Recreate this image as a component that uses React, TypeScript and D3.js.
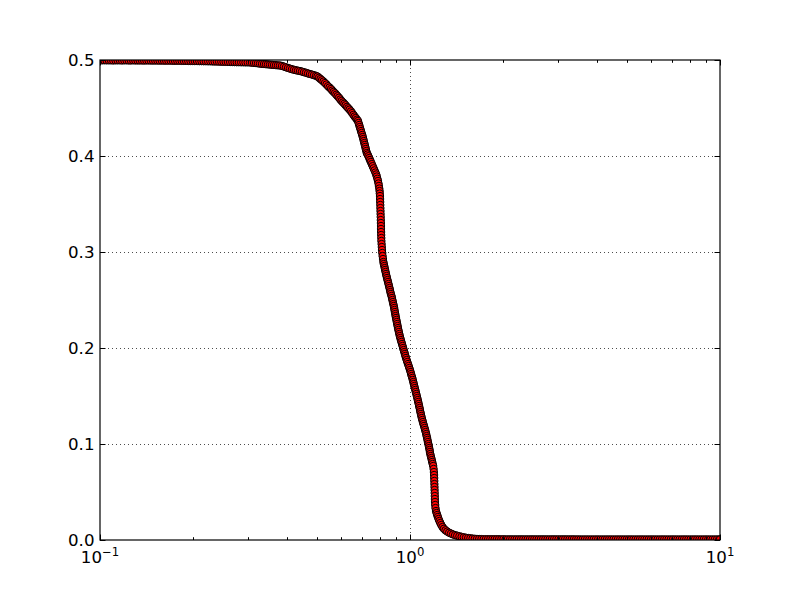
import React from "react";
import * as d3 from "d3";

// ---- data (x on log axis, y linear) ----
const upperPlateau: [number, number][] = [
  [0.1, 0.4996], [0.1016, 0.4996], [0.1033, 0.4997], [0.105, 0.4996], [0.1068, 0.4996], [0.1085, 0.4996],
  [0.1103, 0.4995], [0.1122, 0.4996], [0.114, 0.4996], [0.1159, 0.4996], [0.1178, 0.4995], [0.1198, 0.4996],
  [0.1218, 0.4996], [0.1238, 0.4995], [0.1258, 0.4995], [0.1279, 0.4996], [0.13, 0.4995], [0.1322, 0.4995],
  [0.1343, 0.4995], [0.1366, 0.4995], [0.1388, 0.4994], [0.1411, 0.4995], [0.1434, 0.4995], [0.1458, 0.4994],
  [0.1482, 0.4994], [0.1507, 0.4994], [0.1532, 0.4994], [0.1557, 0.4993], [0.1583, 0.4994], [0.1609, 0.4993],
  [0.1635, 0.4993], [0.1662, 0.4993], [0.169, 0.4993], [0.1718, 0.4992], [0.1746, 0.4992], [0.1775, 0.4992],
  [0.1804, 0.4992], [0.1834, 0.4991], [0.1864, 0.4991], [0.1895, 0.4991], [0.1926, 0.499], [0.1958, 0.499],
  [0.199, 0.499], [0.2023, 0.4989], [0.2057, 0.4989], [0.2091, 0.4988], [0.2125, 0.4988], [0.216, 0.4987],
  [0.2196, 0.4987], [0.2232, 0.4986], [0.2269, 0.4986], [0.2306, 0.4985], [0.2344, 0.4984], [0.2383, 0.4984],
  [0.2422, 0.4983], [0.2462, 0.4982], [0.2503, 0.4981], [0.2544, 0.4981], [0.2586, 0.498], [0.2629, 0.4979],
  [0.2672, 0.4979], [0.2716, 0.4978], [0.2761, 0.4977], [0.2806, 0.4977], [0.2853, 0.4976], [0.29, 0.4976],
  [0.2947, 0.4975], [0.2996, 0.4975],
];

const shoulder: [number, number][] = [
  [0.3047, 0.4974], [0.3093, 0.4972], [0.3139, 0.497], [0.3186, 0.4968], [0.3233, 0.4965], [0.3282, 0.4962],
  [0.3331, 0.496], [0.3381, 0.4958], [0.3431, 0.4956], [0.3483, 0.4954], [0.3535, 0.4952], [0.3588, 0.495],
  [0.3641, 0.4948], [0.3696, 0.4946], [0.3751, 0.4944], [0.3807, 0.4943], [0.3864, 0.4938], [0.3922, 0.4931],
  [0.3981, 0.4924], [0.4041, 0.4917], [0.4101, 0.491], [0.4162, 0.4904], [0.4225, 0.4898], [0.4288, 0.4893],
  [0.4352, 0.4889], [0.4417, 0.4885], [0.4483, 0.4879], [0.455, 0.4873], [0.4618, 0.4867], [0.4688, 0.486],
  [0.4758, 0.4854], [0.4829, 0.4848], [0.4901, 0.4842], [0.4975, 0.4835], [0.503, 0.4828], [0.5087, 0.4815],
  [0.5144, 0.4802], [0.5201, 0.4789], [0.526, 0.4775], [0.5319, 0.476], [0.5378, 0.4745], [0.5439, 0.4727],
  [0.55, 0.4713], [0.5561, 0.4698], [0.5615, 0.4682], [0.567, 0.4668], [0.5729, 0.4654], [0.5785, 0.4638],
  [0.5841, 0.4623], [0.5902, 0.4607], [0.5959, 0.4589], [0.6017, 0.4573], [0.608, 0.4558], [0.6139, 0.4544],
  [0.6198, 0.4529], [0.6263, 0.4512], [0.6324, 0.4497], [0.6385, 0.4483], [0.6452, 0.4465], [0.6509, 0.4447],
  [0.6568, 0.4429], [0.6627, 0.4412], [0.6686, 0.4396], [0.6746, 0.4379], [0.6796, 0.4365], [0.6826, 0.4344],
  [0.6857, 0.4323], [0.6887, 0.4302], [0.6918, 0.4281], [0.6949, 0.426], [0.698, 0.424], [0.7011, 0.4219],
  [0.7043, 0.4198], [0.7069, 0.4177], [0.7095, 0.4156], [0.7122, 0.4135], [0.7148, 0.4115], [0.7175, 0.4094],
  [0.7201, 0.4073], [0.7228, 0.4052], [0.7255, 0.4031], [0.7298, 0.4016], [0.7342, 0.3998], [0.7386, 0.3979],
  [0.743, 0.3958], [0.7479, 0.3938], [0.753, 0.3916], [0.758, 0.3894], [0.7631, 0.3872], [0.7682, 0.385],
  [0.7734, 0.3828], [0.778, 0.3808], [0.7814, 0.3786], [0.7849, 0.3763], [0.7884, 0.374], [0.7914, 0.3714],
  [0.7937, 0.3688], [0.7961, 0.3661], [0.7979, 0.3635], [0.799, 0.3609],
];

const firstDrop: [number, number][] = [
  [0.8002, 0.3583], [0.8008, 0.3552], [0.8014, 0.3521], [0.802, 0.349], [0.8026, 0.3458], [0.8032, 0.3427],
  [0.8038, 0.3396], [0.8044, 0.3365], [0.805, 0.3333], [0.8056, 0.3302], [0.8062, 0.3271], [0.8062, 0.324],
  [0.8068, 0.3208], [0.8074, 0.3177], [0.808, 0.3146], [0.8086, 0.3115], [0.8098, 0.3083], [0.811, 0.3052],
  [0.8122, 0.3021], [0.814, 0.299], [0.8158, 0.2958], [0.8182, 0.2927], [0.8207, 0.2896],
];

const midSlope: [number, number][] = [
  [0.8231, 0.2875], [0.8262, 0.2854], [0.8287, 0.2833], [0.8311, 0.2813], [0.8342, 0.2792], [0.8367, 0.2771],
  [0.8398, 0.275], [0.8429, 0.2729], [0.8461, 0.2708], [0.8492, 0.2688], [0.8524, 0.2667], [0.8555, 0.2646],
  [0.8587, 0.2625], [0.8619, 0.2604], [0.8645, 0.2583], [0.8677, 0.2563], [0.8716, 0.2542], [0.8748, 0.2521],
  [0.8774, 0.25], [0.8807, 0.2479], [0.8833, 0.2458], [0.8866, 0.2438], [0.8892, 0.2417], [0.8912, 0.2396],
  [0.8939, 0.2375], [0.8965, 0.2354], [0.8985, 0.2333], [0.9012, 0.2313], [0.9039, 0.2292], [0.9066, 0.2271],
  [0.9093, 0.225], [0.912, 0.2229], [0.9147, 0.2208], [0.9174, 0.2188], [0.9208, 0.2167], [0.9236, 0.2146],
  [0.927, 0.2125], [0.9305, 0.2104], [0.9346, 0.2083], [0.9381, 0.2063], [0.9423, 0.2042], [0.9465, 0.2021],
  [0.95, 0.2], [0.9543, 0.1979], [0.9585, 0.1958], [0.9628, 0.1938], [0.9664, 0.1917], [0.9707, 0.1896],
  [0.9758, 0.1875], [0.9801, 0.1854], [0.9853, 0.1833], [0.9904, 0.1813], [0.9948, 0.1792], [1.0, 0.1771],
  [1.0045, 0.175], [1.0082, 0.1729], [1.0127, 0.1708], [1.0172, 0.1688], [1.021, 0.1667], [1.0248, 0.1646],
  [1.0286, 0.1625], [1.0325, 0.1604], [1.0363, 0.1583], [1.0402, 0.1563], [1.044, 0.1542], [1.0479, 0.1521],
  [1.0518, 0.15], [1.0557, 0.1479], [1.0597, 0.1458], [1.0628, 0.1438], [1.0668, 0.1417], [1.0699, 0.1396],
  [1.0739, 0.1375], [1.0771, 0.1354], [1.0803, 0.1333], [1.0843, 0.1313], [1.0876, 0.1292], [1.0916, 0.1271],
  [1.0957, 0.125], [1.1006, 0.1229], [1.1047, 0.1208], [1.1096, 0.1188], [1.1146, 0.1167], [1.1187, 0.1146],
  [1.1237, 0.1125], [1.1279, 0.1104], [1.1312, 0.1083], [1.1354, 0.1063], [1.1388, 0.1042], [1.1422, 0.1021],
  [1.1464, 0.1], [1.1498, 0.0979], [1.1532, 0.0958], [1.1567, 0.0938], [1.1593, 0.0917], [1.1627, 0.0896],
  [1.167, 0.0875], [1.1714, 0.0854], [1.1757, 0.0833], [1.1792, 0.0813], [1.1836, 0.0792], [1.188, 0.0771],
];

const secondDrop: [number, number][] = [
  [1.1916, 0.074], [1.1942, 0.0708], [1.196, 0.0677], [1.1969, 0.0646], [1.1978, 0.0615], [1.1987, 0.0583],
  [1.1996, 0.0552], [1.2004, 0.0521], [1.2013, 0.049], [1.2022, 0.0458], [1.2031, 0.0427], [1.204, 0.0396],
  [1.2058, 0.0365], [1.2085, 0.0333],
];

const knee: [number, number][] = [
  [1.213, 0.0302], [1.2184, 0.0281], [1.2238, 0.026], [1.2302, 0.024], [1.2366, 0.0219], [1.244, 0.0198],
  [1.2524, 0.0177], [1.2618, 0.0156], [1.2731, 0.0135], [1.2864, 0.0117], [1.3017, 0.0101], [1.3183, 0.0088],
  [1.337, 0.0076], [1.356, 0.0067], [1.3763, 0.0058], [1.3979, 0.0051], [1.4199, 0.0045], [1.4433, 0.0039],
  [1.467, 0.0033], [1.4912, 0.0028], [1.5158, 0.0024], [1.5408, 0.0021], [1.5662, 0.0018], [1.5919, 0.0015],
  [1.6182, 0.0013], [1.6448, 0.0011], [1.6719, 0.001], [1.7, 0.0009],
];

const lowerPlateau: [number, number][] = [
  [1.728, 0.0008], [1.757, 0.0008], [1.786, 0.0008], [1.815, 0.0008], [1.845, 0.0008], [1.875, 0.0008],
  [1.906, 0.0008], [1.938, 0.0008], [1.97, 0.0007], [2.002, 0.0008], [2.035, 0.0007], [2.069, 0.0007],
  [2.103, 0.0007], [2.137, 0.0007], [2.173, 0.0007], [2.208, 0.0007], [2.245, 0.0007], [2.282, 0.0007],
  [2.319, 0.0007], [2.358, 0.0007], [2.396, 0.0007], [2.436, 0.0007], [2.476, 0.0007], [2.517, 0.0007],
  [2.558, 0.0007], [2.601, 0.0007], [2.643, 0.0007], [2.687, 0.0007], [2.731, 0.0007], [2.776, 0.0007],
  [2.822, 0.0007], [2.869, 0.0007], [2.916, 0.0007], [2.964, 0.0007], [3.013, 0.0007], [3.063, 0.0007],
  [3.113, 0.0007], [3.164, 0.0007], [3.217, 0.0007], [3.27, 0.0007], [3.324, 0.0007], [3.378, 0.0007],
  [3.434, 0.0006], [3.491, 0.0007], [3.548, 0.0006], [3.607, 0.0006], [3.666, 0.0006], [3.727, 0.0006],
  [3.788, 0.0006], [3.851, 0.0006], [3.914, 0.0006], [3.979, 0.0006], [4.044, 0.0006], [4.111, 0.0006],
  [4.179, 0.0006], [4.248, 0.0006], [4.318, 0.0006], [4.389, 0.0006], [4.461, 0.0006], [4.535, 0.0006],
  [4.61, 0.0006], [4.686, 0.0006], [4.763, 0.0006], [4.842, 0.0006], [4.921, 0.0006], [5.003, 0.0006],
  [5.085, 0.0006], [5.169, 0.0006], [5.254, 0.0006], [5.341, 0.0006], [5.429, 0.0006], [5.518, 0.0006],
  [5.609, 0.0006], [5.702, 0.0006], [5.796, 0.0006], [5.891, 0.0006], [5.988, 0.0006], [6.087, 0.0006],
  [6.187, 0.0006], [6.289, 0.0006], [6.393, 0.0006], [6.499, 0.0006], [6.606, 0.0006], [6.715, 0.0006],
  [6.825, 0.0006], [6.938, 0.0006], [7.052, 0.0006], [7.168, 0.0006], [7.287, 0.0006], [7.407, 0.0006],
  [7.529, 0.0006], [7.653, 0.0006], [7.779, 0.0006], [7.907, 0.0006], [8.038, 0.0006], [8.17, 0.0006],
  [8.305, 0.0006], [8.442, 0.0006], [8.581, 0.0006], [8.722, 0.0006], [8.866, 0.0006], [9.012, 0.0006],
  [9.161, 0.0006], [9.312, 0.0006], [9.465, 0.0006], [9.621, 0.0006], [9.78, 0.0006], [9.941, 0.0006],
  [10.0, 0.0006],
];

const yTickValues = [0.0, 0.1, 0.2, 0.3, 0.4, 0.5];
const yTickLabels = ["0.0", "0.1", "0.2", "0.3", "0.4", "0.5"];
const xMajorTicks = [0.1, 1, 10];
const xMajorExponents = ["\u22121", "0", "1"];

const W = 800;
const H = 600;
const left = 100, right = 720, top = 60, bottom = 540;
const FONT = "DejaVu Sans";

export default function App() {
  const x = d3.scaleLog().domain([0.1, 10]).range([left, right]);
  const y = d3.scaleLinear().domain([0, 0.5]).range([bottom, top]);

  const points = [
    ...upperPlateau, ...shoulder, ...firstDrop, ...midSlope, ...secondDrop, ...knee, ...lowerPlateau,
  ];

  const allXTicks = x.ticks();
  const minorX = allXTicks.filter((t) => Math.abs(Math.log10(t) - Math.round(Math.log10(t))) > 1e-6);

  const majorLen = 5.5;
  const minorLen = 2.8;

  return (
    <svg
      width={W}
      height={H}
      viewBox={`0 0 ${W} ${H}`}
      style={{ position: "absolute", left: 0, top: 0, background: "#fff" }}
    >
      <rect x={0} y={0} width={W} height={H} fill="#fff" />
      <defs>
        <clipPath id="plotclip">
          <rect x={left} y={top} width={right - left} height={bottom - top} />
        </clipPath>
      </defs>

      <g clipPath="url(#plotclip)">
        {points.map(([px, py], i) => (
          <circle
            key={i}
            cx={x(px)}
            cy={y(py)}
            r={3.7}
            fill="#ff0000"
            stroke="#000"
            strokeWidth={1.0}
          />
        ))}
      </g>

      {/* grid */}
      <g stroke="#000" strokeWidth={0.7} strokeDasharray="1,3" fill="none">
        {yTickValues.slice(1, -1).map((t) => (
          <line key={`gy${t}`} x1={left} x2={right} y1={Math.round(y(t)) + 0.5} y2={Math.round(y(t)) + 0.5} />
        ))}
        {xMajorTicks.slice(1, -1).map((t) => (
          <line key={`gx${t}`} x1={Math.round(x(t)) + 0.5} x2={Math.round(x(t)) + 0.5} y1={top} y2={bottom} />
        ))}
      </g>

      {/* ticks */}
      <g stroke="#000" strokeWidth={1}>
        {yTickValues.map((t) => {
          const yy = Math.round(y(t)) + 0.5;
          return (
            <g key={`ty${t}`}>
              <line x1={left} x2={left + majorLen} y1={yy} y2={yy} />
              <line x1={right} x2={right - majorLen} y1={yy} y2={yy} />
            </g>
          );
        })}
        {xMajorTicks.map((t) => {
          const xx = Math.round(x(t)) + 0.5;
          return (
            <g key={`tx${t}`}>
              <line x1={xx} x2={xx} y1={bottom} y2={bottom - majorLen} />
              <line x1={xx} x2={xx} y1={top} y2={top + majorLen} />
            </g>
          );
        })}
        {minorX.map((t) => {
          const xx = Math.round(x(t)) + 0.5;
          return (
            <g key={`mx${t}`}>
              <line x1={xx} x2={xx} y1={bottom} y2={bottom - minorLen} />
              <line x1={xx} x2={xx} y1={top} y2={top + minorLen} />
            </g>
          );
        })}
      </g>

      {/* frame */}
      <rect x={left} y={top} width={right - left} height={bottom - top} fill="none" stroke="#000" strokeWidth={1.2} />

      {/* y labels */}
      <g fontFamily={FONT} fontSize={16.67} fill="#000">
        {yTickValues.map((t, i) => (
          <text key={`ly${t}`} x={left - 5.5} y={y(t)} textAnchor="end" dominantBaseline="central">
            {yTickLabels[i]}
          </text>
        ))}
      </g>

      {/* x labels */}
      <g fontFamily={FONT} fill="#000">
        {xMajorTicks.map((t, i) => (
          <text key={`lx${t}`} x={x(t)} y={563} textAnchor="middle" fontSize={16.67}>
            10
            <tspan fontSize={11.7} dy={-7}>
              {xMajorExponents[i]}
            </tspan>
          </text>
        ))}
      </g>
    </svg>
  );
}
